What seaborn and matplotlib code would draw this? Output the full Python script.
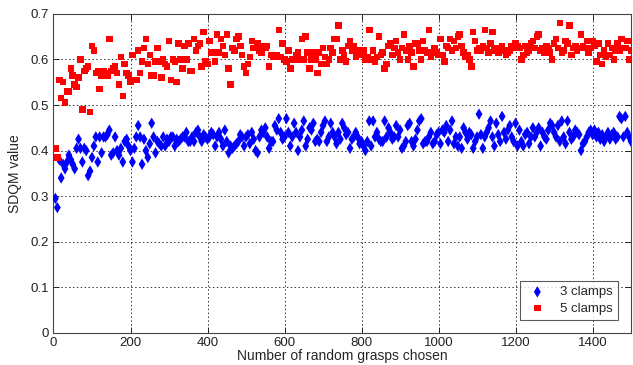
import numpy as np
import pandas as pd
import matplotlib
matplotlib.use("Agg")
import matplotlib.pyplot as plt
import seaborn as sns

grasps = list(range(5, 1501, 5))

clamps3 = [
    0.295, 0.275, 0.38, 0.34, 0.37, 0.36, 0.375, 0.39, 0.38, 0.37, 0.36, 0.405, 0.425, 0.405, 0.375, 0.405, 0.40, 0.345, 0.355, 0.385,
    0.41, 0.43, 0.375, 0.43, 0.395, 0.43, 0.43, 0.435, 0.445, 0.39, 0.395, 0.43, 0.40, 0.39, 0.405, 0.375, 0.42, 0.425, 0.41, 0.40,
    0.375, 0.405, 0.43, 0.455, 0.43, 0.37, 0.425, 0.40, 0.385, 0.415, 0.46, 0.43, 0.395, 0.42, 0.415, 0.41, 0.43, 0.41, 0.425, 0.42,
    0.43, 0.43, 0.41, 0.425, 0.42, 0.425, 0.43, 0.43, 0.44, 0.42, 0.42, 0.43, 0.42, 0.44, 0.445, 0.43, 0.42, 0.435, 0.43, 0.425,
    0.43, 0.44, 0.435, 0.41, 0.43, 0.44, 0.425, 0.41, 0.445, 0.42, 0.395, 0.41, 0.405, 0.41, 0.415, 0.42, 0.435, 0.43, 0.41, 0.43,
    0.435, 0.415, 0.44, 0.425, 0.40, 0.395, 0.43, 0.445, 0.44, 0.45, 0.43, 0.405, 0.42, 0.42, 0.455, 0.445, 0.47, 0.44, 0.425, 0.43,
    0.47, 0.44, 0.41, 0.43, 0.46, 0.44, 0.40, 0.43, 0.445, 0.465, 0.41, 0.425, 0.45, 0.445, 0.46, 0.42, 0.425, 0.42, 0.44, 0.455,
    0.465, 0.42, 0.43, 0.46, 0.44, 0.43, 0.415, 0.44, 0.425, 0.46, 0.45, 0.435, 0.44, 0.405, 0.425, 0.43, 0.44, 0.43, 0.415, 0.42,
    0.41, 0.40, 0.42, 0.465, 0.41, 0.465, 0.43, 0.44, 0.425, 0.42, 0.42, 0.465, 0.43, 0.45, 0.44, 0.425, 0.43, 0.455, 0.43, 0.445,
    0.405, 0.41, 0.42, 0.455, 0.46, 0.42, 0.41, 0.425, 0.445, 0.465, 0.47, 0.415, 0.42, 0.42, 0.43, 0.44, 0.415, 0.42, 0.435, 0.44,
    0.415, 0.445, 0.44, 0.455, 0.42, 0.445, 0.465, 0.415, 0.43, 0.41, 0.43, 0.405, 0.45, 0.44, 0.425, 0.44, 0.435, 0.405, 0.42, 0.43,
    0.48, 0.435, 0.405, 0.43, 0.44, 0.45, 0.465, 0.43, 0.41, 0.46, 0.435, 0.42, 0.475, 0.44, 0.425, 0.445, 0.455, 0.43, 0.42, 0.46,
    0.41, 0.445, 0.42, 0.41, 0.435, 0.44, 0.415, 0.43, 0.45, 0.43, 0.44, 0.45, 0.41, 0.44, 0.43, 0.425, 0.445, 0.46, 0.455, 0.44,
    0.43, 0.455, 0.42, 0.465, 0.43, 0.415, 0.465, 0.44, 0.425, 0.43, 0.445, 0.44, 0.435, 0.40, 0.415, 0.42, 0.43, 0.44, 0.445, 0.435,
    0.445, 0.43, 0.44, 0.425, 0.435, 0.42, 0.43, 0.44, 0.425, 0.435, 0.44, 0.425, 0.43, 0.475, 0.47, 0.43, 0.475, 0.44, 0.43, 0.42,
]

clamps5 = [
    0.405, 0.385, 0.555, 0.515, 0.55, 0.505, 0.53, 0.53, 0.58, 0.565, 0.545, 0.54, 0.56, 0.60, 0.49, 0.575, 0.58, 0.585, 0.485, 0.63,
    0.62, 0.57, 0.575, 0.535, 0.565, 0.575, 0.57, 0.565, 0.645, 0.575, 0.58, 0.585, 0.57, 0.545, 0.605, 0.52, 0.59, 0.57, 0.565, 0.55,
    0.61, 0.555, 0.555, 0.62, 0.57, 0.595, 0.625, 0.645, 0.59, 0.61, 0.565, 0.565, 0.595, 0.625, 0.595, 0.56, 0.60, 0.59, 0.585, 0.64,
    0.555, 0.60, 0.595, 0.55, 0.635, 0.60, 0.58, 0.63, 0.60, 0.635, 0.575, 0.575, 0.645, 0.62, 0.63, 0.635, 0.585, 0.66, 0.595, 0.59,
    0.64, 0.615, 0.615, 0.595, 0.655, 0.615, 0.645, 0.63, 0.61, 0.655, 0.58, 0.545, 0.625, 0.62, 0.645, 0.65, 0.63, 0.61, 0.585, 0.57,
    0.59, 0.605, 0.64, 0.625, 0.625, 0.635, 0.62, 0.615, 0.63, 0.625, 0.63, 0.585, 0.61, 0.605, 0.605, 0.61, 0.665, 0.605, 0.635, 0.60,
    0.595, 0.62, 0.58, 0.60, 0.60, 0.61, 0.615, 0.60, 0.645, 0.60, 0.65, 0.615, 0.58, 0.60, 0.615, 0.60, 0.57, 0.615, 0.59, 0.625,
    0.605, 0.59, 0.60, 0.625, 0.615, 0.645, 0.645, 0.675, 0.60, 0.62, 0.61, 0.595, 0.63, 0.64, 0.62, 0.63, 0.605, 0.615, 0.62, 0.61,
    0.62, 0.60, 0.605, 0.665, 0.60, 0.62, 0.595, 0.605, 0.65, 0.61, 0.615, 0.58, 0.59, 0.63, 0.635, 0.61, 0.625, 0.64, 0.615, 0.60,
    0.625, 0.655, 0.62, 0.60, 0.63, 0.615, 0.585, 0.635, 0.635, 0.62, 0.60, 0.64, 0.62, 0.615, 0.665, 0.605, 0.615, 0.625, 0.615, 0.61,
    0.645, 0.61, 0.595, 0.63, 0.625, 0.645, 0.62, 0.64, 0.625, 0.65, 0.655, 0.63, 0.615, 0.605, 0.61, 0.60, 0.585, 0.66, 0.64, 0.62,
    0.625, 0.62, 0.63, 0.665, 0.625, 0.615, 0.635, 0.66, 0.62, 0.625, 0.615, 0.62, 0.63, 0.62, 0.61, 0.615, 0.62, 0.63, 0.625, 0.635,
    0.63, 0.625, 0.60, 0.61, 0.63, 0.615, 0.62, 0.635, 0.64, 0.625, 0.65, 0.655, 0.62, 0.625, 0.615, 0.63, 0.625, 0.615, 0.60, 0.635,
    0.645, 0.625, 0.68, 0.615, 0.62, 0.64, 0.635, 0.675, 0.61, 0.625, 0.63, 0.62, 0.625, 0.655, 0.63, 0.625, 0.64, 0.615, 0.625, 0.64,
    0.63, 0.595, 0.635, 0.61, 0.59, 0.62, 0.605, 0.635, 0.61, 0.625, 0.60, 0.62, 0.635, 0.62, 0.645, 0.625, 0.625, 0.64, 0.60, 0.62,
]

series_names = ["3 clamps", "5 clamps"]
x_ticks = [0, 200, 400, 600, 800, 1000, 1200, 1400]
y_ticks = [0, 0.1, 0.2, 0.3, 0.4, 0.5, 0.6, 0.7]

df = pd.DataFrame({
    "grasps": grasps * 2,
    "sdqm": clamps3 + clamps5,
    "series": [series_names[0]] * len(grasps) + [series_names[1]] * len(grasps),
})

sns.set_style("white")
plt.rcParams["font.family"] = ["Liberation Sans", "DejaVu Sans"]

fig = plt.figure(figsize=(6.33, 3.65), dpi=100)
ax = fig.add_axes([0.0845, 0.088, 0.9125, 0.874])

palette = {"3 clamps": "#0000ff", "5 clamps": "#ff0000"}
markers = {"3 clamps": "d", "5 clamps": "s"}
sizes_map = {"3 clamps": 34, "5 clamps": 22}

for name in series_names:
    sub = df[df["series"] == name]
    sns.scatterplot(data=sub, x="grasps", y="sdqm", color=palette[name],
                    marker=markers[name], s=sizes_map[name], linewidth=0,
                    edgecolor="none", ax=ax, label=name, zorder=3)

ax.set_xlim(0, 1500)
ax.set_ylim(0, 0.7)
ax.set_xticks(x_ticks)
ax.set_yticks(y_ticks)
ax.set_xticklabels([str(t) for t in x_ticks])
ax.set_yticklabels(["0" if t == 0 else f"{t:.1f}" for t in y_ticks])
ax.grid(True, color="#333333", linestyle=(0, (1.5, 2.5)), linewidth=0.7)
ax.set_axisbelow(True)
for sp in ax.spines.values():
    sp.set_visible(True)
    sp.set_color("#444444")
    sp.set_linewidth(0.8)
ax.tick_params(direction="in", length=4, width=0.7, colors="#222222", labelsize=9.5, pad=3,
               top=True, right=True, bottom=True, left=True)
ax.set_xlabel("Number of random grasps chosen", fontsize=10, labelpad=0)
ax.set_ylabel("SDQM value", fontsize=10, labelpad=6)

leg = ax.legend(loc="lower right", bbox_to_anchor=(0.977, 0.041), borderaxespad=0,
                frameon=True, fancybox=False,
                fontsize=9.5, handletextpad=0.8, borderpad=0.4, labelspacing=0.3,
                handlelength=1.8, markerscale=1.0)
leg.get_frame().set_edgecolor("#333333")
leg.get_frame().set_linewidth(0.8)

fig.savefig("out.png", dpi=100)
